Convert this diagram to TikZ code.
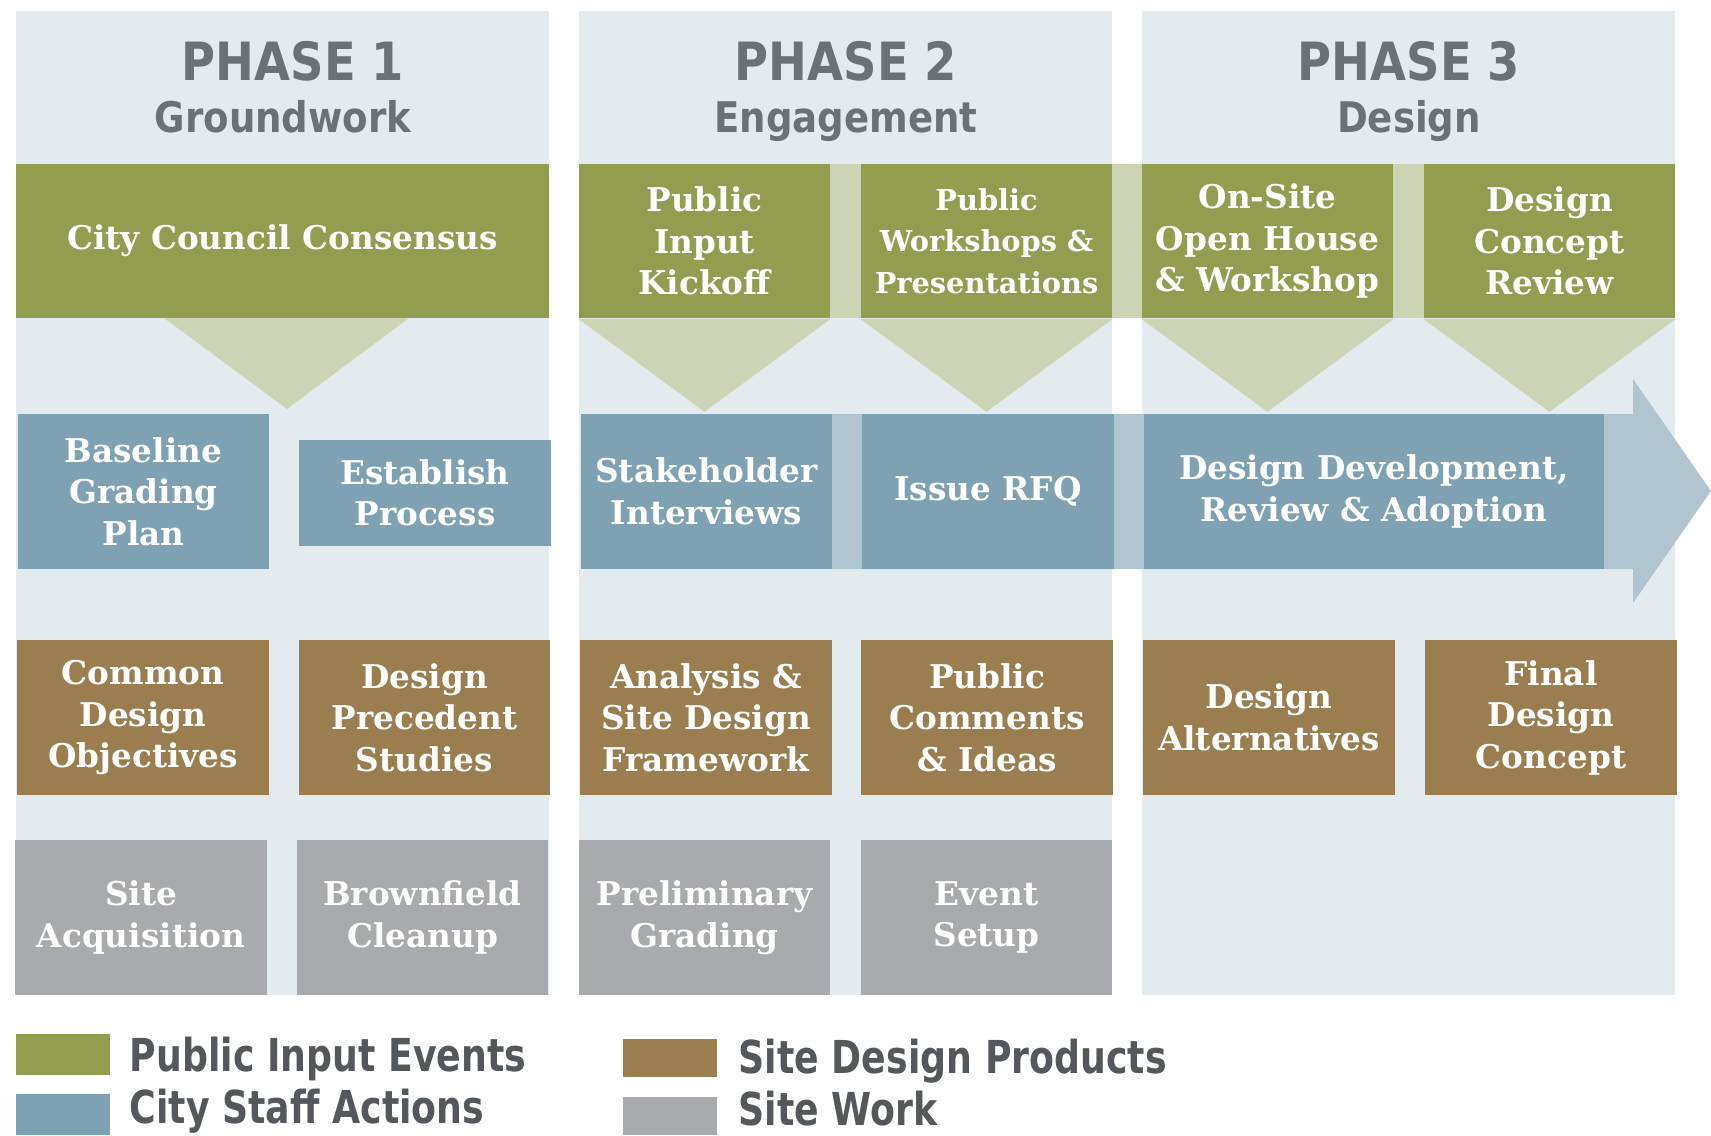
\documentclass[tikz,border=0pt]{standalone}
\usepackage{fontspec}
\newfontfamily\cellfont{DejaVu Serif}
\newfontfamily\headfont{DejaVu Sans}[FakeStretch=0.88]
\newfontfamily\keyfont{DejaVu Sans}[FakeStretch=0.8]
\definecolor{panel}{HTML}{E4EBEF}
\definecolor{evgreen}{HTML}{939D50}
\definecolor{evpale}{HTML}{CDD3B5}
\definecolor{staffblue}{HTML}{7EA2B3}
\definecolor{staffpale}{HTML}{B0C5CF}
\definecolor{prodbrown}{HTML}{9B7E4F}
\definecolor{workgrey}{HTML}{A9AAAE}
\definecolor{headgrey}{HTML}{6C7176}
\definecolor{keygrey}{HTML}{54585C}
\tikzset{
  cell/.style={minimum width=2.51cm, minimum height=1.54cm, inner sep=0pt, align=center,
    text=white, font=\cellfont\bfseries\fontsize{9.3}{11.8}\selectfont},
  phase/.style={anchor=base, text=headgrey, font=\headfont\bfseries\fontsize{15}{15}\selectfont},
  stage/.style={anchor=base, text=headgrey, font=\headfont\bfseries\fontsize{12}{12}\selectfont},
  swatch/.style={minimum width=0.94cm, minimum height=0.41cm, inner sep=0pt},
  key/.style={anchor=base west, inner sep=0pt, text=keygrey, font=\keyfont\bfseries\fontsize{12.9}{14}\selectfont}
}
\begin{document}
\begin{tikzpicture}[x=0.01cm, y=-0.01cm]
\useasboundingbox (0,0) rectangle (1711,1136);
\fill[white] (0,0) rectangle (1711,1136);
\foreach \px in {16,579,1142} \fill[panel] (\px,11) rectangle ++(533,984);
\node[phase] (p1) at (293,80) {PHASE 1};
\node[stage] (s1) at (283,132) {Groundwork};
\node[phase] (p2) at (846,80) {PHASE 2};
\node[stage] (s2) at (846,132) {Engagement};
\node[phase] (p3) at (1409,80) {PHASE 3};
\node[stage] (s3) at (1409,132) {Design};
\fill[evpale] (830,164) rectangle (1424,318);
\fill[staffpale] (830,414) -- (1633,414) -- (1633,379) -- (1711,491) -- (1633,603) -- (1633,569) -- (830,569) -- cycle;
\node[cell, fill=evgreen, minimum width=5.33cm] (cons) at (282.5,241) {City Council Consensus};
\node[cell, fill=evgreen] (kick) at (704.5,241) {Public\\Input\\Kickoff};
\node[cell, fill=evgreen, font=\cellfont\bfseries\fontsize{8.2}{11.8}\selectfont] (shops) at (986.5,241) {Public\\Workshops \&\\Presentations};
\node[cell, fill=evgreen] (house) at (1267.5,241) {On-Site\\Open House\\\& Workshop};
\node[cell, fill=evgreen] (review) at (1549.5,241) {Design\\Concept\\Review};
\fill[evpale] (164,318) -- (409,318) -- (287,409) -- cycle;
\foreach \c in {kick,shops,house,review}
  \fill[evpale] (\c.south west) -- (\c.south east) -- ([yshift=-0.93cm]\c.south) -- cycle;
\node[cell, fill=staffblue] (base) at (143.5,491.5) {Baseline\\Grading\\Plan};
\node[cell, fill=staffblue, minimum height=1.06cm] (estab) at (425,493) {Establish\\Process};
\node[cell, fill=staffblue] (stake) at (706.5,491.5) {Stakeholder\\Interviews};
\node[cell, fill=staffblue] (rfq) at (988,491.5) {Issue RFQ};
\node[cell, fill=staffblue, minimum width=4.6cm] (devel) at (1374,491.5) {Design Development,\\Review \& Adoption};
\node[cell, fill=prodbrown] (comm) at (143,717.5) {Common\\Design\\Objectives};
\node[cell, fill=prodbrown] (prec) at (424.5,717.5) {Design\\Precedent\\Studies};
\node[cell, fill=prodbrown] (frame) at (706,717.5) {Analysis \&\\Site Design\\Framework};
\node[cell, fill=prodbrown] (ideas) at (987,717.5) {Public\\Comments\\\& Ideas};
\node[cell, fill=prodbrown] (alts) at (1269,717.5) {Design\\Alternatives};
\node[cell, fill=prodbrown] (final) at (1551,717.5) {Final\\Design\\Concept};
\node[cell, fill=workgrey] (acq) at (141,917.5) {Site\\Acquisition};
\node[cell, fill=workgrey] (clean) at (422.5,917.5) {Brownfield\\Cleanup};
\node[cell, fill=workgrey] (prelim) at (704.5,917.5) {Preliminary\\Grading};
\node[cell, fill=workgrey] (setup) at (986.5,917.5) {Event\\Setup};
\node[swatch, fill=evgreen] (kgreen) at (63,1054.5) {};
\node[key] (tgreen) at (129,1071) {Public Input Events};
\node[swatch, fill=staffblue] (kblue) at (63,1114.5) {};
\node[key] (tblue) at (129,1123) {City Staff Actions};
\node[swatch, fill=prodbrown, minimum height=0.38cm] (kbrown) at (670,1058) {};
\node[key] (tbrown) at (738,1073) {Site Design Products};
\node[swatch, fill=workgrey, minimum height=0.38cm] (kgrey) at (670,1116) {};
\node[key] (tgrey) at (738,1125) {Site Work};
\end{tikzpicture}
\end{document}
